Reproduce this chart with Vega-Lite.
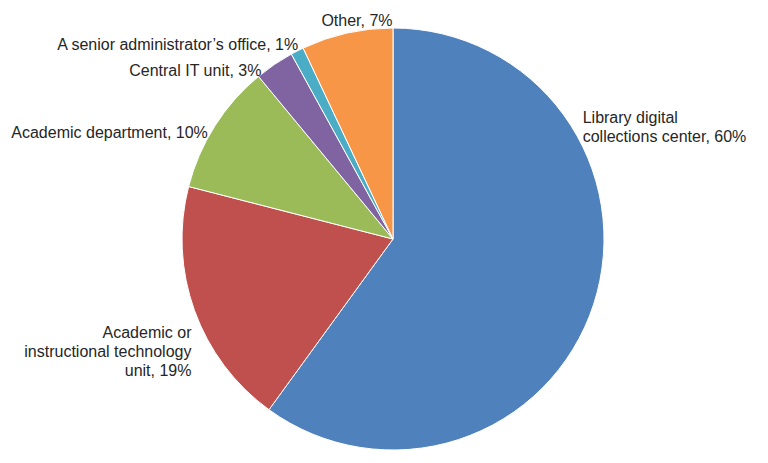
{
  "$schema": "https://vega.github.io/schema/vega-lite/v6.json",
  "autosize": {"type": "none"},
  "width": 750,
  "height": 448,
  "padding": {"left": 18, "top": 15, "right": 0, "bottom": 0},
  "background": "white",
  "config": {"view": {"stroke": null}},
  "data": {
    "values": [
      {"rank": 1, "category": "Library digital collections center", "label": "Library digital\ncollections center, 60%", "pct": 60},
      {"rank": 2, "category": "Academic or instructional technology unit", "label": "Academic or\ninstructional technology\nunit, 19%", "pct": 19},
      {"rank": 3, "category": "Academic department", "label": "Academic department, 10%", "pct": 10},
      {"rank": 4, "category": "Central IT unit", "label": "Central IT unit, 3%", "pct": 3},
      {"rank": 5, "category": "A senior administrator’s office", "label": "A senior administrator’s office, 1%", "pct": 1},
      {"rank": 6, "category": "Other", "label": "Other, 7%", "pct": 7}
    ]
  },
  "encoding": {
    "theta": {"field": "pct", "type": "quantitative", "stack": true},
    "order": {"field": "rank", "type": "quantitative"}
  },
  "layer": [
    {
      "mark": {"type": "arc", "radius": 211, "stroke": "white", "strokeWidth": 1},
      "encoding": {
        "color": {
          "field": "category",
          "type": "nominal",
          "legend": null,
          "scale": {
            "domain": ["Library digital collections center", "Academic or instructional technology unit", "Academic department", "Central IT unit", "A senior administrator’s office", "Other"],
            "range": ["#4F81BD", "#C0504D", "#9BBB59", "#8064A2", "#4BACC6", "#F79646"]
          }
        }
      }
    },
    {
      "mark": {"type": "text", "radius": 211, "align": "left", "baseline": "middle", "dx": -11, "dy": -186, "lineBreak": "\n", "lineHeight": 19, "font": "Liberation Sans", "fontSize": 16, "color": "#262626"},
      "encoding": {"text": {"condition": {"test": "datum.rank == 1", "field": "label"}, "value": ""}}
    },
    {
      "mark": {"type": "text", "radius": 211, "align": "right", "baseline": "middle", "dx": -3, "dy": 23, "lineBreak": "\n", "lineHeight": 19, "font": "Liberation Sans", "fontSize": 16, "color": "#262626"},
      "encoding": {"text": {"condition": {"test": "datum.rank == 2", "field": "label"}, "value": ""}}
    },
    {
      "mark": {"type": "text", "radius": 211, "align": "right", "baseline": "middle", "dx": -7, "dy": 7, "font": "Liberation Sans", "fontSize": 16, "color": "#262626"},
      "encoding": {"text": {"condition": {"test": "datum.rank == 3", "field": "label"}, "value": ""}}
    },
    {
      "mark": {"type": "text", "radius": 211, "align": "right", "baseline": "middle", "dx": -13, "dy": 7, "font": "Liberation Sans", "fontSize": 16, "color": "#262626"},
      "encoding": {"text": {"condition": {"test": "datum.rank == 4", "field": "label"}, "value": ""}}
    },
    {
      "mark": {"type": "text", "radius": 211, "align": "right", "baseline": "middle", "dx": 1, "dy": -6, "font": "Liberation Sans", "fontSize": 16, "color": "#262626"},
      "encoding": {"text": {"condition": {"test": "datum.rank == 5", "field": "label"}, "value": ""}}
    },
    {
      "mark": {"type": "text", "radius": 211, "align": "center", "baseline": "middle", "dx": 10, "dy": -12, "font": "Liberation Sans", "fontSize": 16, "color": "#262626"},
      "encoding": {"text": {"condition": {"test": "datum.rank == 6", "field": "label"}, "value": ""}}
    }
  ]
}
